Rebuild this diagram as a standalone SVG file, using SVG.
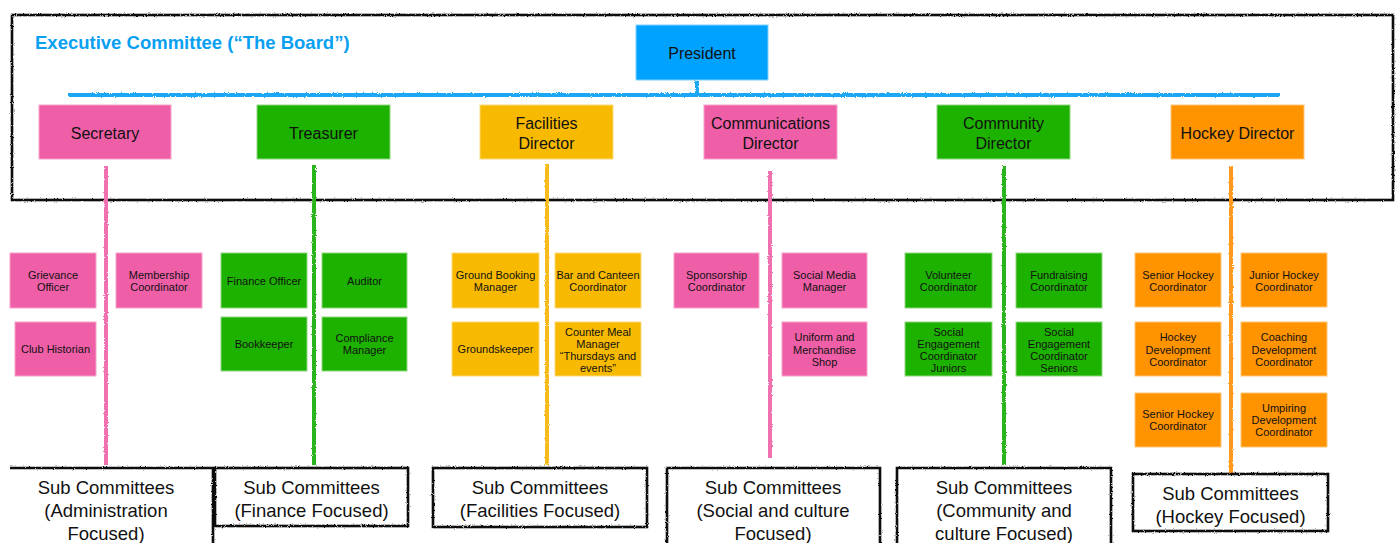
<svg xmlns="http://www.w3.org/2000/svg" width="1398" height="543" viewBox="0 0 1398 543">
<defs>
<filter id="rough" filterUnits="userSpaceOnUse" x="0" y="0" width="1398" height="543">
<feTurbulence type="fractalNoise" baseFrequency="0.9" numOctaves="2" seed="3" result="n"/>
<feDisplacementMap in="SourceGraphic" in2="n" scale="2.5" xChannelSelector="R" yChannelSelector="G"/>
</filter>
</defs>
<style>
text{font-family:"Liberation Sans",Arial,Helvetica,sans-serif;fill:#111;text-anchor:middle}
.big{font-size:16px}
.sm{font-size:11px}
.sub{font-size:18.5px}
.title{font-size:18.5px;font-weight:bold;fill:#0aa0f2;text-anchor:start}
.frame{fill:none;stroke:#111;stroke-width:2.6;filter:url(#rough)}
.pink{fill:#ef5fa7;stroke:#f6a3c9;stroke-width:1}
.green{fill:#1db100;stroke:#8fd67f;stroke-width:1}
.yellow{fill:#f8ba00;stroke:#fbd97a;stroke-width:1}
.orange{fill:#ff9300;stroke:#ffc57a;stroke-width:1}
.blue{fill:#00a2ff;stroke:#7fd0ff;stroke-width:1}
.ln{fill:none;stroke-width:4;filter:url(#rough)}
</style>
<rect x="0" y="0" width="1398" height="543" fill="#ffffff"/>
<g id="board-frame">
<rect class="frame" x="12" y="15" width="1381" height="185"/>
<text class="title" x="35" y="49">Executive Committee (“The Board”)</text>
</g>
<g id="connectors">
<path class="ln" stroke="#1aa7f5" d="M68,95 H1280 M697,81 V95"/>
<path class="ln" stroke="#f06fb0" d="M106,166 V465"/>
<path class="ln" stroke="#2bb51a" d="M314,165 V465"/>
<path class="ln" stroke="#f8bb1a" d="M547,164 V465"/>
<path class="ln" stroke="#f06fb0" d="M770,171 V458"/>
<path class="ln" stroke="#2bb51a" d="M1004,166 V465"/>
<path class="ln" stroke="#ff9a1a" d="M1231,166 V473"/>
</g>
<g id="president"><rect class="blue" x="636" y="25" width="132" height="55"/><text class="big" x="702" y="59">President</text></g>
<g id="secretary"><rect class="pink" x="39" y="105" width="132" height="54"/><text class="big" x="105" y="139">Secretary</text></g>
<g id="treasurer"><rect class="green" x="257" y="105" width="133" height="54"/><text class="big" x="323.5" y="139">Treasurer</text></g>
<g id="facilities-director"><rect class="yellow" x="480" y="105" width="133" height="54"/><text class="big" x="546.5" y="129">Facilities</text><text class="big" x="546.5" y="149">Director</text></g>
<g id="communications-director"><rect class="pink" x="704" y="105" width="133" height="54"/><text class="big" x="770.5" y="129">Communications</text><text class="big" x="770.5" y="149">Director</text></g>
<g id="community-director"><rect class="green" x="937" y="105" width="133" height="54"/><text class="big" x="1003.5" y="129">Community</text><text class="big" x="1003.5" y="149">Director</text></g>
<g id="hockey-director"><rect class="orange" x="1171" y="105" width="133" height="54"/><text class="big" x="1237.5" y="139">Hockey Director</text></g>

<g id="grievance-officer"><rect class="pink" x="10" y="253" width="86" height="55"/><text class="sm" x="53" y="279">Grievance</text><text class="sm" x="53" y="291">Officer</text></g>
<g id="club-historian"><rect class="pink" x="15" y="322" width="81" height="54"/><text class="sm" x="55.5" y="353">Club Historian</text></g>
<g id="membership-coordinator"><rect class="pink" x="116" y="253" width="86" height="55"/><text class="sm" x="159" y="279">Membership</text><text class="sm" x="159" y="291">Coordinator</text></g>

<g id="finance-officer"><rect class="green" x="221" y="253" width="86" height="55"/><text class="sm" x="264" y="285">Finance Officer</text></g>
<g id="auditor"><rect class="green" x="322" y="253" width="85" height="55"/><text class="sm" x="364.5" y="285">Auditor</text></g>
<g id="bookkeeper"><rect class="green" x="221" y="317" width="86" height="54"/><text class="sm" x="264" y="348">Bookkeeper</text></g>
<g id="compliance-manager"><rect class="green" x="322" y="317" width="85" height="54"/><text class="sm" x="364.5" y="342">Compliance</text><text class="sm" x="364.5" y="354">Manager</text></g>

<g id="ground-booking-manager"><rect class="yellow" x="452" y="253" width="87" height="55"/><text class="sm" x="495.5" y="279">Ground Booking</text><text class="sm" x="495.5" y="291">Manager</text></g>
<g id="bar-canteen-coordinator"><rect class="yellow" x="555" y="253" width="86" height="55"/><text class="sm" x="598" y="279">Bar and Canteen</text><text class="sm" x="598" y="291">Coordinator</text></g>
<g id="groundskeeper"><rect class="yellow" x="452" y="322" width="87" height="54"/><text class="sm" x="495.5" y="353">Groundskeeper</text></g>
<g id="counter-meal-manager"><rect class="yellow" x="555" y="322" width="86" height="54"/><text class="sm" x="598" y="336">Counter Meal</text><text class="sm" x="598" y="348">Manager</text><text class="sm" x="598" y="360">“Thursdays and</text><text class="sm" x="598" y="372">events”</text></g>

<g id="sponsorship-coordinator"><rect class="pink" x="674" y="253" width="85" height="55"/><text class="sm" x="716.5" y="279">Sponsorship</text><text class="sm" x="716.5" y="291">Coordinator</text></g>
<g id="social-media-manager"><rect class="pink" x="782" y="253" width="85" height="55"/><text class="sm" x="824.5" y="279">Social Media</text><text class="sm" x="824.5" y="291">Manager</text></g>
<g id="uniform-merchandise-shop"><rect class="pink" x="782" y="322" width="85" height="54"/><text class="sm" x="824.5" y="341">Uniform and</text><text class="sm" x="824.5" y="354">Merchandise</text><text class="sm" x="824.5" y="366">Shop</text></g>

<g id="volunteer-coordinator"><rect class="green" x="905" y="253" width="87" height="55"/><text class="sm" x="948.5" y="279">Volunteer</text><text class="sm" x="948.5" y="291">Coordinator</text></g>
<g id="fundraising-coordinator"><rect class="green" x="1016" y="253" width="86" height="55"/><text class="sm" x="1059" y="279">Fundraising</text><text class="sm" x="1059" y="291">Coordinator</text></g>
<g id="social-engagement-juniors"><rect class="green" x="905" y="322" width="87" height="54"/><text class="sm" x="948.5" y="336">Social</text><text class="sm" x="948.5" y="348">Engagement</text><text class="sm" x="948.5" y="360">Coordinator</text><text class="sm" x="948.5" y="372">Juniors</text></g>
<g id="social-engagement-seniors"><rect class="green" x="1016" y="322" width="86" height="54"/><text class="sm" x="1059" y="336">Social</text><text class="sm" x="1059" y="348">Engagement</text><text class="sm" x="1059" y="360">Coordinator</text><text class="sm" x="1059" y="372">Seniors</text></g>

<g id="senior-hockey-coordinator"><rect class="orange" x="1135" y="253" width="86" height="54"/><text class="sm" x="1178" y="279">Senior Hockey</text><text class="sm" x="1178" y="291">Coordinator</text></g>
<g id="junior-hockey-coordinator"><rect class="orange" x="1241" y="253" width="86" height="54"/><text class="sm" x="1284" y="279">Junior Hockey</text><text class="sm" x="1284" y="291">Coordinator</text></g>
<g id="hockey-development-coordinator"><rect class="orange" x="1135" y="322" width="86" height="54"/><text class="sm" x="1178" y="341">Hockey</text><text class="sm" x="1178" y="354">Development</text><text class="sm" x="1178" y="366">Coordinator</text></g>
<g id="coaching-development-coordinator"><rect class="orange" x="1241" y="322" width="86" height="54"/><text class="sm" x="1284" y="341">Coaching</text><text class="sm" x="1284" y="354">Development</text><text class="sm" x="1284" y="366">Coordinator</text></g>
<g id="senior-hockey-coordinator-2"><rect class="orange" x="1135" y="393" width="86" height="54"/><text class="sm" x="1178" y="418">Senior Hockey</text><text class="sm" x="1178" y="430">Coordinator</text></g>
<g id="umpiring-development-coordinator"><rect class="orange" x="1241" y="393" width="86" height="54"/><text class="sm" x="1284" y="412">Umpiring</text><text class="sm" x="1284" y="424">Development</text><text class="sm" x="1284" y="436">Coordinator</text></g>

<g id="sub-admin"><path class="frame" d="M10,468 H213 V548"/><text class="sub" x="106" y="494">Sub Committees</text><text class="sub" x="106" y="517">(Administration</text><text class="sub" x="106" y="540">Focused)</text></g>
<g id="sub-finance"><rect class="frame" x="215" y="468" width="193" height="58"/><text class="sub" x="311.5" y="494">Sub Committees</text><text class="sub" x="311.5" y="517">(Finance Focused)</text></g>
<g id="sub-facilities"><rect class="frame" x="433" y="468" width="214" height="59"/><text class="sub" x="540" y="494">Sub Committees</text><text class="sub" x="540" y="517">(Facilities Focused)</text></g>
<g id="sub-social"><path class="frame" d="M667,548 V468 H880 V548"/><text class="sub" x="773" y="494">Sub Committees</text><text class="sub" x="773" y="517">(Social and culture</text><text class="sub" x="773" y="540">Focused)</text></g>
<g id="sub-community"><path class="frame" d="M897,548 V468 H1111 V548"/><text class="sub" x="1004" y="494">Sub Committees</text><text class="sub" x="1004" y="517">(Community and</text><text class="sub" x="1004" y="540">culture Focused)</text></g>
<g id="sub-hockey"><rect class="frame" x="1133" y="474" width="195" height="57"/><text class="sub" x="1230.5" y="500">Sub Committees</text><text class="sub" x="1230.5" y="523">(Hockey Focused)</text></g>
</svg>
